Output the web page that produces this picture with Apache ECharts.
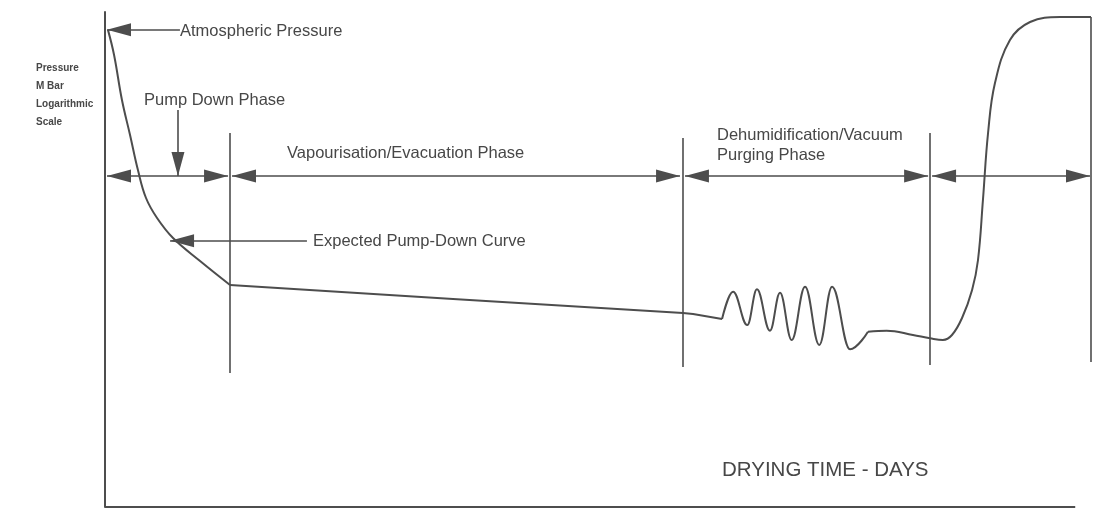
<!DOCTYPE html>
<html>
<head>
<meta charset="utf-8">
<script src="https://cdn.jsdelivr.net/npm/echarts@6/dist/echarts.min.js"></script>
<style>
  html, body { margin: 0; padding: 0; background: #ffffff; }
  #chart { width: 1094px; height: 511px; }
</style>
</head>
<body>
<div id="chart"></div>
<script>
// Vacuum drying: chamber pressure (mbar, logarithmic) against drying time (days)

// Pressure trace, [day, pressure in mbar], split by how the trace behaves
const pumpDownCurve = [
  [0.15, 1013], [0.46, 489], [0.86, 132.7], [1.27, 48.1], [1.67, 17.4],
  [2.08, 7.75], [2.64, 4.34], [3.45, 2.43], [4.82, 1.248], [6.34, 0.623]
];
const evacuationPlateau = [
  [6.34, 0.623], [17.65, 0.415], [29.31, 0.277], [29.82, 0.2687], [31.29, 0.2325]
];
// Purge cycles: alternating highs and lows
const purgeOscillation = [
  [31.29, 0.2325], [31.85, 0.5128], [32.57, 0.1953], [33.06, 0.5496],
  [33.72, 0.1656], [34.23, 0.4982], [34.82, 0.1265], [35.50, 0.5929],
  [36.22, 0.1094], [36.87, 0.5929], [37.78, 0.0966], [38.69, 0.1609]
];
const recoveryRise = [
  [38.69, 0.1609], [39.64, 0.1656], [40.97, 0.1462], [41.84, 0.1329],
  [42.49, 0.1265], [42.95, 0.1462], [43.46, 0.2393], [43.97, 0.539],
  [44.27, 1.285], [44.52, 7.31], [44.78, 51.0], [45.13, 217], [45.89, 755],
  [46.91, 1272], [48.43, 1471], [50.0, 1471]
];

// Phase boundaries: day, and the pressure span each marker line covers
const boundaryDays = [6.34, 29.31, 41.84, 50.0];
const boundaryTop = [51.0, 44.1, 51.0, 1471];
const boundaryBottom = [0.0486, 0.0578, 0.0613, 0.0669];

// Phase extent arrows drawn at this pressure level
const phaseArrowLevel = 14.7;
const phaseSpans = [[0.10, 6.24], [6.44, 29.16], [29.41, 41.74], [41.94, 49.95]];

// Annotation pointers: tail -> tip, in [day, mbar]
const pointerTails = [[3.80, 1013], [3.70, 99.3], [10.24, 2.25]];
const pointerTips = [[0.10, 1013], [3.70, 14.7], [3.30, 2.25]];

// Time axis baseline
const baselineSpan = [0, 49.2];

const axisMin = 0.001;
const axisMax = 1700;

const INK = '#4d4d4d';
const TEXT = '#474747';
const HEAD_W = 13, HEAD_L = 24;

// Shafts of every arrow and the phase marker lines
const shaftLines = [];
phaseSpans.forEach(s => shaftLines.push({ coords: [[s[0], phaseArrowLevel], [s[1], phaseArrowLevel]] }));
pointerTails.forEach((t, i) => shaftLines.push({ coords: [t, pointerTips[i]] }));
const boundaryLines = boundaryDays.map((d, i) => ({ coords: [[d, boundaryTop[i]], [d, boundaryBottom[i]]] }));

// Arrow heads: tip at the data point, pointing away from the shaft
function head(tip, dir) {
  const cfg = {
    left:  { rot: 90,  off: [HEAD_L / 2, 0] },
    right: { rot: -90, off: [-HEAD_L / 2, 0] },
    down:  { rot: 180, off: [0, -HEAD_L / 2] },
    up:    { rot: 0,   off: [0, HEAD_L / 2] }
  }[dir];
  return { value: tip, symbolRotate: cfg.rot, symbolOffset: cfg.off };
}
const heads = [];
phaseSpans.forEach(s => {
  heads.push(head([s[0], phaseArrowLevel], 'left'));
  heads.push(head([s[1], phaseArrowLevel], 'right'));
});
pointerTips.forEach((tip, i) => {
  const tail = pointerTails[i];
  let dir;
  if (tail[0] === tip[0]) dir = tail[1] > tip[1] ? 'down' : 'up';
  else dir = tail[0] > tip[0] ? 'left' : 'right';
  heads.push(head(tip, dir));
});

const font = size => size + 'px "Liberation Sans", Arial, sans-serif';
function label(text, x, y, size) {
  return {
    type: 'text', x: x, y: y, z: 10,
    style: { text: text, font: font(size), fill: TEXT, verticalAlign: 'middle', align: 'left' }
  };
}

function trace(data, smooth, monotone) {
  return {
    type: 'line', data: data, smooth: smooth, smoothMonotone: monotone,
    showSymbol: false, clip: false,
    lineStyle: { color: INK, width: 2 }
  };
}

const chart = echarts.init(document.getElementById('chart'), null, { renderer: 'canvas' });
chart.setOption({
  backgroundColor: '#ffffff',
  animation: false,
  grid: { left: 105, right: 3, top: 12, bottom: 4 },
  xAxis: {
    type: 'value', min: 0, max: 50,
    axisLine: { show: false }, axisTick: { show: false },
    axisLabel: { show: false }, splitLine: { show: false }
  },
  yAxis: {
    type: 'log', logBase: 10, min: axisMin, max: axisMax,
    axisLine: { show: true, lineStyle: { color: INK, width: 2 } },
    axisTick: { show: false }, axisLabel: { show: false }, splitLine: { show: false }
  },
  series: [
    trace(pumpDownCurve, 0.4),
    trace(evacuationPlateau, false),
    trace(purgeOscillation, 0.4, 'x'),
    trace(recoveryRise, 0.4),
    {
      type: 'line', name: 'Time axis',
      data: [[baselineSpan[0], axisMin], [baselineSpan[1], axisMin]],
      showSymbol: false, clip: false,
      lineStyle: { color: INK, width: 2 }
    },
    {
      type: 'lines', coordinateSystem: 'cartesian2d',
      data: boundaryLines, symbol: 'none',
      lineStyle: { color: INK, width: 1.6, opacity: 1 }
    },
    {
      type: 'lines', coordinateSystem: 'cartesian2d',
      data: shaftLines, symbol: 'none',
      lineStyle: { color: INK, width: 1.6, opacity: 1 }
    },
    {
      type: 'scatter', data: heads, symbol: 'triangle',
      symbolSize: [HEAD_W, HEAD_L], clip: false,
      itemStyle: { color: INK, opacity: 1 }, z: 5
    }
  ],
  graphic: [
    label('Atmospheric Pressure', 180, 31, 16.5),
    label('Pump Down Phase', 144, 100, 16.5),
    label('Vapourisation/Evacuation Phase', 287, 153, 16.5),
    label('Expected Pump-Down Curve', 313, 241, 16.5),
    label('Dehumidification/Vacuum', 717, 135, 16.5),
    label('Purging Phase', 717, 155, 16.5),
    label('DRYING TIME - DAYS', 722, 470, 20.5),
    {
      type: 'text', x: 36, y: 59, z: 10,
      style: {
        text: 'Pressure\nM Bar\nLogarithmic\nScale',
        font: 'bold 10px "Liberation Sans", Arial, sans-serif',
        fill: TEXT, lineHeight: 18, verticalAlign: 'top', align: 'left'
      }
    }
  ]
});
</script>
</body>
</html>
